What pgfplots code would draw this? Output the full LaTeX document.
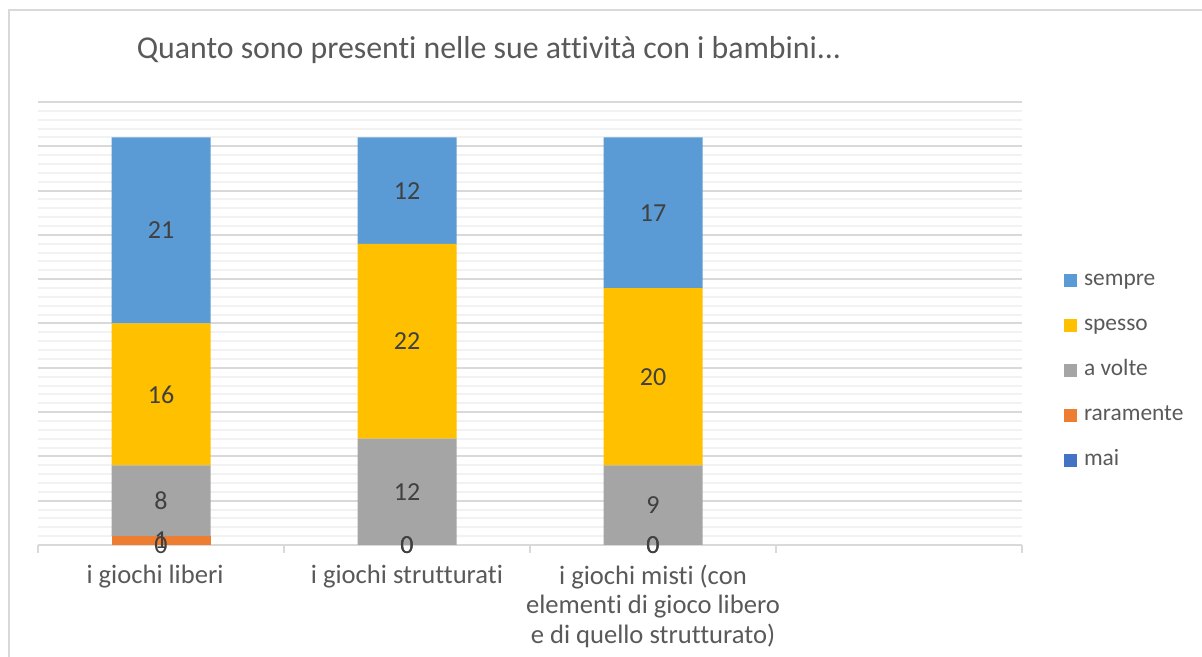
\documentclass[border=0pt]{standalone}
\usepackage{fontspec}
\setmainfont{Carlito}[Ligatures=NoCommon]
\usepackage{pgfplots}
\usepackage{pgfplotstable}
\pgfplotsset{compat=1.18}
\definecolor{csempre}{HTML}{5B9BD5}
\definecolor{cspesso}{HTML}{FFC000}
\definecolor{cavolte}{HTML}{A5A5A5}
\definecolor{craramente}{HTML}{ED7D31}
\definecolor{cmai}{HTML}{4472C4}
\definecolor{cgridmaj}{HTML}{D9D9D9}
\definecolor{cgridmin}{HTML}{F2F2F2}
\definecolor{ctext}{HTML}{595959}
\definecolor{clabel}{HTML}{404040}

\pgfplotstableread{
x mai raramente avolte spesso sempre
0 0 1 8 16 21
1 0 0 12 22 12
2 0 0 9 20 17
}\datatable

% label positions: centre of each stacked segment
\pgfplotstableread{
x y label
0 0 0
0 0.5 1
0 5 8
0 17 16
0 35.5 21
1 0 0
1 0 0
1 6 12
1 23 22
1 40 12
2 0 0
2 0 0
2 4.5 9
2 19 20
2 37.5 17
}\labeltable

\begin{document}
\begin{tikzpicture}
\path[use as bounding box] (-19pt,-56pt) rectangle (582pt,272.5pt);
\draw[cgridmaj, line width=1pt] (-14.5pt,-57pt) -- (-14.5pt,267.25pt) -- (583pt,267.25pt);
\begin{axis}[
  at={(0pt,0pt)}, anchor=south west,
  scale only axis, width=492pt, height=221.5pt,
  xmin=-0.5, xmax=3.5, ymin=0, ymax=50,
  ybar stacked, bar width=49.5pt,
  axis line style={draw=none},
  ytick distance=5, minor y tick num=4,
  yticklabel=\empty,
  ymajorgrids, yminorgrids,
  major grid style={draw=cgridmaj, line width=1pt},
  minor grid style={draw=cgridmin, line width=1pt},
  xtick={0,1,2},
  xticklabels={i giochi liberi\hspace*{6pt}, i giochi strutturati, {i giochi misti (con\\elementi di gioco libero\\e di quello strutturato)}},
  minor xtick={-0.5,0.5,1.5,2.5,3.5},
  xtick pos=bottom, ytick pos=left,
  tick align=outside,
  major tick length=0pt,
  minor tick length=4pt,
  every minor x tick/.style={draw=cgridmaj, line width=1pt},
  every minor y tick/.style={draw=none},
  every major y tick/.style={draw=none},
  xticklabel style={anchor=north, inner sep=0pt, yshift=-9.6pt, align=center, text=ctext, font=\fontsize{13.3}{14.9}\selectfont},
  legend style={at={(1.0427,0.6216)}, anchor=north west, draw=none, fill=none, inner sep=0pt, outer sep=0pt, row sep=11.5pt,
    font=\fontsize{11.7}{14}\selectfont, text=ctext,
    nodes={inner sep=0pt, text height=8pt, text depth=3pt},
    /tikz/every odd column/.append style={column sep=3.5pt}},
  legend cell align=left,
  reverse legend,
  legend image code/.code={\fill[#1] (0pt,-3.25pt) rectangle (6.5pt,3.25pt);},
]
\addplot[fill=cmai, draw=none] table[x=x, y=mai] {\datatable};
\addlegendentry{mai}
\addplot[fill=craramente, draw=none] table[x=x, y=raramente] {\datatable};
\addlegendentry{raramente}
\addplot[fill=cavolte, draw=none] table[x=x, y=avolte] {\datatable};
\addlegendentry{a volte}
\addplot[fill=cspesso, draw=none] table[x=x, y=spesso] {\datatable};
\addlegendentry{spesso}
\addplot[fill=csempre, draw=none] table[x=x, y=sempre] {\datatable};
\addlegendentry{sempre}
\end{axis}
\begin{axis}[
  at={(0pt,0pt)}, anchor=south west,
  scale only axis, width=492pt, height=221.5pt,
  xmin=-0.5, xmax=3.5, ymin=0, ymax=50,
  hide axis, clip=false,
]
\addplot[only marks, mark=none, nodes near coords, point meta=explicit symbolic,
  nodes near coords align=center,
  every node near coord/.append style={anchor=center, text=clabel, font=\fontsize{13}{15}\selectfont}]
  table[x=x, y=y, meta=label] {\labeltable};
\end{axis}
\node[font=\fontsize{15.9}{18}\selectfont, text=ctext, anchor=center] at (225.5pt,247.7pt) {Quanto sono presenti nelle sue attività con i bambini...};
\end{tikzpicture}
\end{document}
